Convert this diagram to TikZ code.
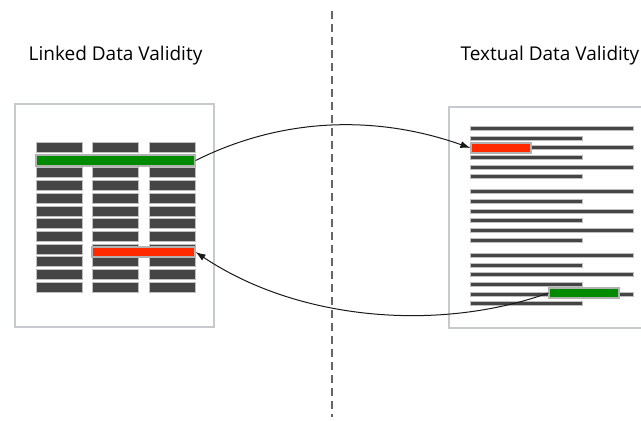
\documentclass[tikz,border=0pt]{standalone}
\usepackage{fontspec}
\setmainfont{Open Sans}
\usetikzlibrary{arrows.meta,positioning}
\definecolor{framegray}{HTML}{C6CACE}
\definecolor{bargray}{HTML}{454545}
\definecolor{okgreen}{HTML}{008A00}
\definecolor{badred}{HTML}{FF2A00}

\begin{document}
\begin{tikzpicture}[
						x=1pt,
						y=-1pt,
						frame/.style={draw=framegray, line width=1.6pt, fill=white, inner sep=0pt},
						title/.style={font=\fontsize{19}{23}\selectfont, text=black, inner sep=0pt, anchor=base},
						cell/.style={fill=bargray, draw=black!25, line width=0.5pt, inner sep=0pt, minimum width=46pt, minimum height=10pt, anchor=north west},
						textline/.style={fill=bargray, draw=black!25, line width=0.4pt, inner sep=0pt, minimum height=4pt, anchor=west},
						hit/.style={draw=black!30, line width=1.2pt, inner sep=0pt, minimum height=10pt},
						divider/.style={draw=black!60, line width=1.4pt, dash pattern=on 8pt off 5pt},
						link/.style={draw=black!90, line width=1pt, -{Latex[length=10pt,width=7pt]}}
					]
					\useasboundingbox (0,0) rectangle (641,421);
					\clip (0,0) rectangle (641,421);
					\fill[white] (0,0) rectangle (641,421);

					\coordinate (divtop) at (332,11);
					\coordinate (divbot) at (332,417);
					\draw[divider] (divtop) -- (divbot);

					\node[title] (ltitle) at (115.5,60) {Linked Data Validity};
					\node[title] (rtitle) at (550,60) {Textual Data Validity};

					\node[frame, minimum width=199pt, minimum height=223pt] (lbox) at (114.5,215.5) {};
					\node[frame, minimum width=220pt, minimum height=221pt] (rbox) at (559,217.5) {};

					\foreach \r in {0,...,11}
						\foreach \c/\cx in {0/36,1/92,2/149}
							\node[cell] (cell-\r-\c) at (\cx,{142+12.7*\r}) {};

					\foreach \p in {0,1,2}
						\foreach \l/\w in {0/163,1/112,2/163,3/112,4/163,5/112}
							\node[textline, minimum width=\w pt] (line-\p-\l) at (470,{128+63.5*\p+9.7*\l}) {};

					\node[hit, fill=okgreen, minimum width=159pt, minimum height=11pt] (lgreen) at (115.5,160.5) {};
					\node[hit, fill=badred, minimum width=103pt] (lred) at (143.5,252) {};
					\node[hit, fill=badred, minimum width=60pt] (rred) at (501,148) {};
					\node[hit, fill=okgreen, minimum width=70pt] (rgreen) at (584,293) {};

					\draw[link] (lgreen.east) .. controls +(90,-45) and +(-90,-32) .. (rred.west);
					\draw[link] (rgreen.west) .. controls +(-109,39) and +(103,69) .. (lred.east);
				\end{tikzpicture}
\end{document}
